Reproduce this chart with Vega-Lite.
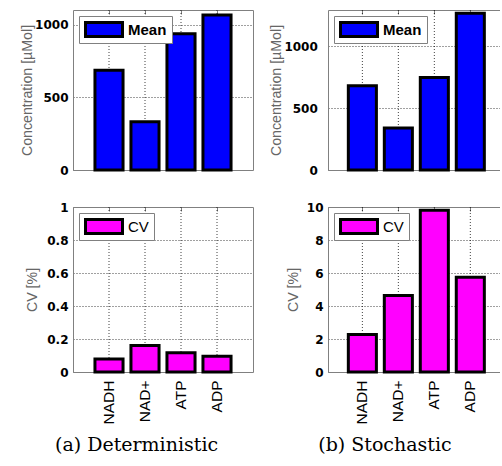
{
  "$schema": "https://vega.github.io/schema/vega-lite/v6.json",
  "background": "white",
  "padding": {"left": 20, "top": 9, "right": 0, "bottom": 0},
  "datasets": {
    "det": [
      {"metabolite": "NADH", "mean": 685, "cv": 0.079},
      {"metabolite": "NAD+", "mean": 331, "cv": 0.161},
      {"metabolite": "ATP", "mean": 936, "cv": 0.116},
      {"metabolite": "ADP", "mean": 1066, "cv": 0.096}
    ],
    "sto": [
      {"metabolite": "NADH", "mean": 681, "cv": 2.27},
      {"metabolite": "NAD+", "mean": 340, "cv": 4.63},
      {"metabolite": "ATP", "mean": 748, "cv": 9.8},
      {"metabolite": "ADP", "mean": 1268, "cv": 5.74}
    ]
  },
  "config": {
    "view": {"stroke": null},
    "font": "Liberation Sans",
    "axis": {
      "domainColor": "#808080",
      "grid": true,
      "gridColor": "#000000",
      "gridOpacity": 0.75,
      "gridDash": [1, 2],
      "ticks": false,
      "labelFont": "DejaVu Sans",
      "labelFontWeight": "bold",
      "labelFontSize": 12,
      "labelColor": "#000000",
      "titleFont": "Liberation Sans",
      "titleFontSize": 14.2,
      "titleFontWeight": "normal",
      "titleColor": "#666666"
    },
    "legend": {
      "orient": "top-left",
      "offset": 6,
      "title": null,
      "strokeColor": "#808080",
      "fillColor": "white",
      "padding": 5,
      "clipHeight": 17,
      "symbolType": "M-1,-0.378H1V0.378H-1Z",
      "symbolSize": 1369,
      "symbolStrokeColor": "black",
      "symbolStrokeWidth": 3,
      "symbolOpacity": 1,
      "labelFont": "Liberation Sans",
      "labelFontSize": 15,
      "labelColor": "#000000",
      "labelOffset": 4
    }
  },
  "spacing": 16,
  "resolve": {"scale": {"fill": "independent"}, "legend": {"fill": "independent"}},
  "hconcat": [
    {
      "title": {"text": "(a) Deterministic", "orient": "bottom", "anchor": "middle", "font": "DejaVu Serif", "fontSize": 19, "fontWeight": "normal", "color": "#000000", "offset": 12},
      "spacing": 25,
      "resolve": {"scale": {"fill": "independent"}, "legend": {"fill": "independent"}},
      "vconcat": [
        {
          "width": 180,
          "height": 160,
          "data": {"name": "det"},
          "layer": [
            {
              "mark": {"type": "rule", "color": "#000000", "opacity": 0.75, "strokeWidth": 1, "strokeDash": [1, 2]},
              "encoding": {
                "x": {"field": "metabolite", "type": "nominal", "sort": null, "axis": null}
              }
            },
            {
              "mark": {"type": "bar", "stroke": "black", "strokeWidth": 3},
              "encoding": {
                "x": {"field": "metabolite", "type": "nominal", "sort": null, "scale": {"paddingInner": 0.22, "paddingOuter": 0.61}, "axis": {"orient": "bottom", "labels": false, "grid": false, "title": null}},
                "y": {"field": "mean", "type": "quantitative", "scale": {"domain": [0, 1100], "nice": false}, "axis": {"values": [0, 500, 1000], "format": "d", "title": "Concentration [µMol]", "labelPadding": 5, "titlePadding": 0.5}},
                "fill": {"datum": "Mean", "type": "nominal", "scale": {"range": ["#0000ff"]}, "legend": {"labelFontWeight": "bold"}}
              }
            },
            {
              "mark": {"type": "bar", "opacity": 0},
              "encoding": {
                "x": {"field": "metabolite", "type": "nominal", "sort": null, "axis": {"orient": "top", "labels": false, "grid": false, "title": null, "ticks": true, "tickSize": -4, "tickColor": "#808080", "bandPosition": 0.5}},
                "y": {"field": "mean", "type": "quantitative", "axis": {"orient": "right", "labels": false, "grid": false, "title": null}}
              }
            }
          ],
          "resolve": {"axis": {"x": "independent", "y": "independent"}}
        },
        {
          "width": 180,
          "height": 165,
          "data": {"name": "det"},
          "layer": [
            {
              "mark": {"type": "rule", "color": "#000000", "opacity": 0.75, "strokeWidth": 1, "strokeDash": [1, 2]},
              "encoding": {
                "x": {"field": "metabolite", "type": "nominal", "sort": null, "axis": null}
              }
            },
            {
              "mark": {"type": "bar", "stroke": "black", "strokeWidth": 3},
              "encoding": {
                "x": {"field": "metabolite", "type": "nominal", "sort": null, "scale": {"paddingInner": 0.22, "paddingOuter": 0.61}, "axis": {"orient": "bottom", "title": null, "grid": false, "labelAngle": 270, "labelFont": "Liberation Sans", "labelFontWeight": "normal", "labelFontSize": 15.5, "labelPadding": 8}},
                "y": {"field": "cv", "type": "quantitative", "scale": {"domain": [0, 1], "nice": false}, "axis": {"values": [0, 0.2, 0.4, 0.6, 0.8, 1], "format": "~g", "title": "CV [%]", "labelPadding": 5, "titlePadding": 7.7}},
                "fill": {"datum": "CV", "type": "nominal", "scale": {"range": ["#ff00ff"]}, "legend": {"labelFontWeight": "normal"}}
              }
            },
            {
              "mark": {"type": "bar", "opacity": 0},
              "encoding": {
                "x": {"field": "metabolite", "type": "nominal", "sort": null, "axis": {"orient": "top", "labels": false, "grid": false, "title": null, "ticks": true, "tickSize": -4, "tickColor": "#808080", "bandPosition": 0.5}},
                "y": {"field": "cv", "type": "quantitative", "axis": {"orient": "right", "labels": false, "grid": false, "title": null}}
              }
            }
          ],
          "resolve": {"axis": {"x": "independent", "y": "independent"}}
        }
      ]
    },
    {
      "title": {"text": "(b) Stochastic", "orient": "bottom", "anchor": "middle", "font": "DejaVu Serif", "fontSize": 19, "fontWeight": "normal", "color": "#000000", "offset": 12},
      "spacing": 25,
      "resolve": {"scale": {"fill": "independent"}, "legend": {"fill": "independent"}},
      "vconcat": [
        {
          "width": 172,
          "height": 160,
          "data": {"name": "sto"},
          "layer": [
            {
              "mark": {"type": "rule", "color": "#000000", "opacity": 0.75, "strokeWidth": 1, "strokeDash": [1, 2]},
              "encoding": {
                "x": {"field": "metabolite", "type": "nominal", "sort": null, "axis": null}
              }
            },
            {
              "mark": {"type": "bar", "stroke": "black", "strokeWidth": 3},
              "encoding": {
                "x": {"field": "metabolite", "type": "nominal", "sort": null, "scale": {"paddingInner": 0.22, "paddingOuter": 0.5, "align": 0.565}, "axis": {"orient": "bottom", "labels": false, "grid": false, "title": null}},
                "y": {"field": "mean", "type": "quantitative", "scale": {"domain": [0, 1295], "nice": false}, "axis": {"values": [0, 500, 1000], "format": "d", "title": "Concentration [µMol]", "labelPadding": 10.7, "titlePadding": 0}},
                "fill": {"datum": "Mean", "type": "nominal", "scale": {"range": ["#0000ff"]}, "legend": {"labelFontWeight": "bold"}}
              }
            },
            {
              "mark": {"type": "bar", "opacity": 0},
              "encoding": {
                "x": {"field": "metabolite", "type": "nominal", "sort": null, "axis": {"orient": "top", "labels": false, "grid": false, "title": null, "ticks": true, "tickSize": -4, "tickColor": "#808080", "bandPosition": 0.5}},
                "y": {"field": "mean", "type": "quantitative", "axis": null}
              }
            }
          ],
          "resolve": {"axis": {"x": "independent", "y": "independent"}}
        },
        {
          "width": 172,
          "height": 165,
          "data": {"name": "sto"},
          "layer": [
            {
              "mark": {"type": "rule", "color": "#000000", "opacity": 0.75, "strokeWidth": 1, "strokeDash": [1, 2]},
              "encoding": {
                "x": {"field": "metabolite", "type": "nominal", "sort": null, "axis": null}
              }
            },
            {
              "mark": {"type": "bar", "stroke": "black", "strokeWidth": 3},
              "encoding": {
                "x": {"field": "metabolite", "type": "nominal", "sort": null, "scale": {"paddingInner": 0.22, "paddingOuter": 0.5, "align": 0.565}, "axis": {"orient": "bottom", "title": null, "grid": false, "labelAngle": 270, "labelFont": "Liberation Sans", "labelFontWeight": "normal", "labelFontSize": 15.5, "labelPadding": 8}},
                "y": {"field": "cv", "type": "quantitative", "scale": {"domain": [0, 10], "nice": false}, "axis": {"values": [0, 2, 4, 6, 8, 10], "format": "d", "title": "CV [%]", "labelPadding": 5, "titlePadding": 5.9}},
                "fill": {"datum": "CV", "type": "nominal", "scale": {"range": ["#ff00ff"]}, "legend": {"labelFontWeight": "normal"}}
              }
            },
            {
              "mark": {"type": "bar", "opacity": 0},
              "encoding": {
                "x": {"field": "metabolite", "type": "nominal", "sort": null, "axis": {"orient": "top", "labels": false, "grid": false, "title": null, "ticks": true, "tickSize": -4, "tickColor": "#808080", "bandPosition": 0.5}},
                "y": {"field": "cv", "type": "quantitative", "axis": null}
              }
            }
          ],
          "resolve": {"axis": {"x": "independent", "y": "independent"}}
        }
      ]
    }
  ]
}
